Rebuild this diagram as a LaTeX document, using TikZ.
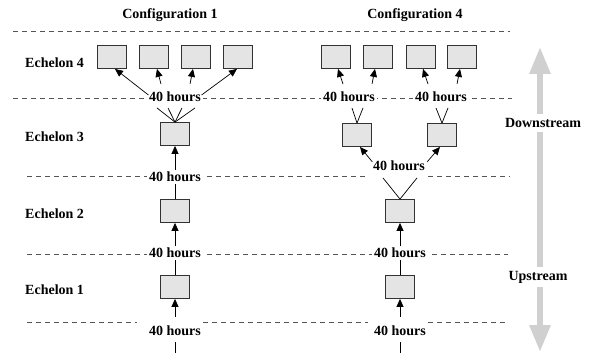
\documentclass[tikz,border=0pt]{standalone}
\usepackage{fontspec}
\setmainfont{Liberation Serif}
\usetikzlibrary{arrows.meta,calc}
\definecolor{boxfill}{RGB}{228,228,228}
\definecolor{boxline}{RGB}{50,50,50}
\definecolor{dashcol}{RGB}{85,85,85}
\definecolor{bigarrow}{RGB}{208,208,208}
\tikzset{
  bx/.style={draw=boxline, fill=boxfill, line width=0.8pt, minimum width=29pt, minimum height=23pt, inner sep=0pt},
  txt/.style={font=\fontsize{14}{16}\selectfont\bfseries, inner sep=0pt},
  hrs/.style={font=\fontsize{14}{16}\selectfont\bfseries, text height=9.5pt, text depth=0pt, inner sep=2pt, fill=white},
  dl/.style={draw=dashcol, line width=0.8pt, dash pattern=on 5pt off 4pt},
  ln/.style={draw=black, line width=0.7pt},
  arr/.style={ln, -{Triangle[length=8pt,width=7pt]}},
}
\begin{document}
\begin{tikzpicture}[x=1pt,y=-1pt]
\useasboundingbox (0,0) rectangle (590,353);
% dashed level lines
\draw[dl] (13,31) -- (510,31);
\draw[dl] (13,98) -- (512,98);
\draw[dl] (27,176) -- (367,176);
\draw[dl] (428,176) -- (510,176);
\draw[dl] (27,254) -- (508,254);
\draw[dl] (27,322) -- (137,322);
\draw[dl] (203,322) -- (368,322);
\draw[dl] (428,322) -- (508,322);
% titles
\node[txt] (t1) at (170,15) {Configuration 1};
\node[txt] (t4) at (415,15) {Configuration 4};
\node[txt, anchor=west] (e4) at (25,63) {Echelon 4};
\node[txt, anchor=west] (e3) at (25,137) {Echelon 3};
\node[txt, anchor=west] (e2) at (25,214) {Echelon 2};
\node[txt, anchor=west] (e1) at (25,290) {Echelon 1};
% big double arrow
\coordinate (gt) at (540,47);
\coordinate (gb) at (540,352);
\draw[draw=bigarrow, line width=6pt, {Triangle[length=27pt,width=20pt]}-{Triangle[length=27pt,width=20pt]}] (gt) -- (gb);
\node[txt, fill=white, inner sep=4pt] (down) at (543,123) {Downstream};
\node[txt, fill=white, inner sep=4pt] (up) at (538,277) {Upstream};
% configuration 1 boxes
\node[bx] (b4a) at (112,57) {};
\node[bx] (b4b) at (154,57) {};
\node[bx] (b4c) at (196,57) {};
\node[bx] (b4d) at (238,57) {};
\node[bx] (b3) at (175,134) {};
\node[bx] (b2) at (175,211) {};
\node[bx] (b1) at (175,287) {};
% configuration 1 labels
\node[hrs] (h1a) at (175,97) {40 hours};
\node[hrs] (h1b) at (175,177) {40 hours};
\node[hrs] (h1c) at (175,253) {40 hours};
\node[hrs] (h1d) at (175,331) {40 hours};
\coordinate (end1) at (175,353);
% configuration 4 boxes
\node[bx] (c4a) at (336,57) {};
\node[bx] (c4b) at (378,57) {};
\node[bx] (c4c) at (421,57) {};
\node[bx] (c4d) at (462,57) {};
\node[bx] (c3a) at (357,135) {};
\node[bx] (c3b) at (442,135) {};
\node[bx] (c2) at (400,211) {};
\node[bx] (c1) at (400,287) {};
% configuration 4 labels
\node[hrs] (h4a) at (349,97) {40 hours};
\node[hrs] (h4b) at (441,97) {40 hours};
\node[hrs, fill=none] (h4c) at (399,166) {40 hours};
\node[hrs] (h4d) at (400,253) {40 hours};
\node[hrs] (h4e) at (400,331) {40 hours};
\coordinate (end4) at (400,353);
% configuration 1 connectors
\draw[arr] ($(h1a.west)+(1.5,-2)$) -- ($(b4a.south)+(3,0)$);
\draw[arr] ($(h1a.north)+(-14,-6)$) -- ($(b4b.south)+(3,0)$);
\draw[arr] ($(h1a.north)+(15,-6)$) -- ($(b4c.south)+(-3,0)$);
\draw[arr] ($(h1a.east)+(-1.5,-2)$) -- ($(b4d.south)+(-1,0)$);
\draw[ln] (b3.north) -- ($(h1a.south)+(-18,4)$);
\draw[ln] (b3.north) -- ($(h1a.south)+(-7,4)$);
\draw[ln] (b3.north) -- ($(h1a.south)+(7,4)$);
\draw[ln] (b3.north) -- ($(h1a.south)+(20,4)$);
\draw[arr] (h1b.north) -- (b3.south);
\draw[ln] (h1b.south) -- (b2.north);
\draw[arr] (h1c.north) -- (b2.south);
\draw[ln] (h1c.south) -- (b1.north);
\draw[arr] ($(h1d.north)+(0,-7)$) -- (b1.south);
\draw[ln] ($(h1d.south)+(0,4)$) -- (end1);
% configuration 4 connectors
\draw[arr] ($(h4a.north)+(-6,-6)$) -- ($(c4a.south)+(2,0)$);
\draw[arr] ($(h4a.north)+(23,-6)$) -- ($(c4b.south)+(-3,0)$);
\draw[arr] ($(h4b.north)+(-13,-6)$) -- ($(c4c.south)+(2,0)$);
\draw[arr] ($(h4b.north)+(16,-6)$) -- ($(c4d.south)+(-2,0)$);
\draw[ln] (c3a.north) -- ($(h4a.south)+(3,4)$);
\draw[ln] (c3a.north) -- ($(h4a.south)+(14,4)$);
\draw[ln] (c3b.north) -- ($(h4b.south)+(-5,4)$);
\draw[ln] (c3b.north) -- ($(h4b.south)+(7,4)$);
\draw[arr] ($(h4c.west)+(1.5,-4)$) -- ($(c3a.south)+(3,0)$);
\draw[arr] ($(h4c.east)+(0,-4)$) -- ($(c3b.south)+(-2,0)$);
\draw[ln] (c2.north) -- ($(h4c.south)+(-16,5)$);
\draw[ln] (c2.north) -- ($(h4c.south)+(18,5)$);
\draw[arr] (h4d.north) -- (c2.south);
\draw[ln] (h4d.south) -- (c1.north);
\draw[arr] ($(h4e.north)+(0,-7)$) -- (c1.south);
\draw[ln] ($(h4e.south)+(0,4)$) -- (end4);
\end{tikzpicture}
\end{document}
